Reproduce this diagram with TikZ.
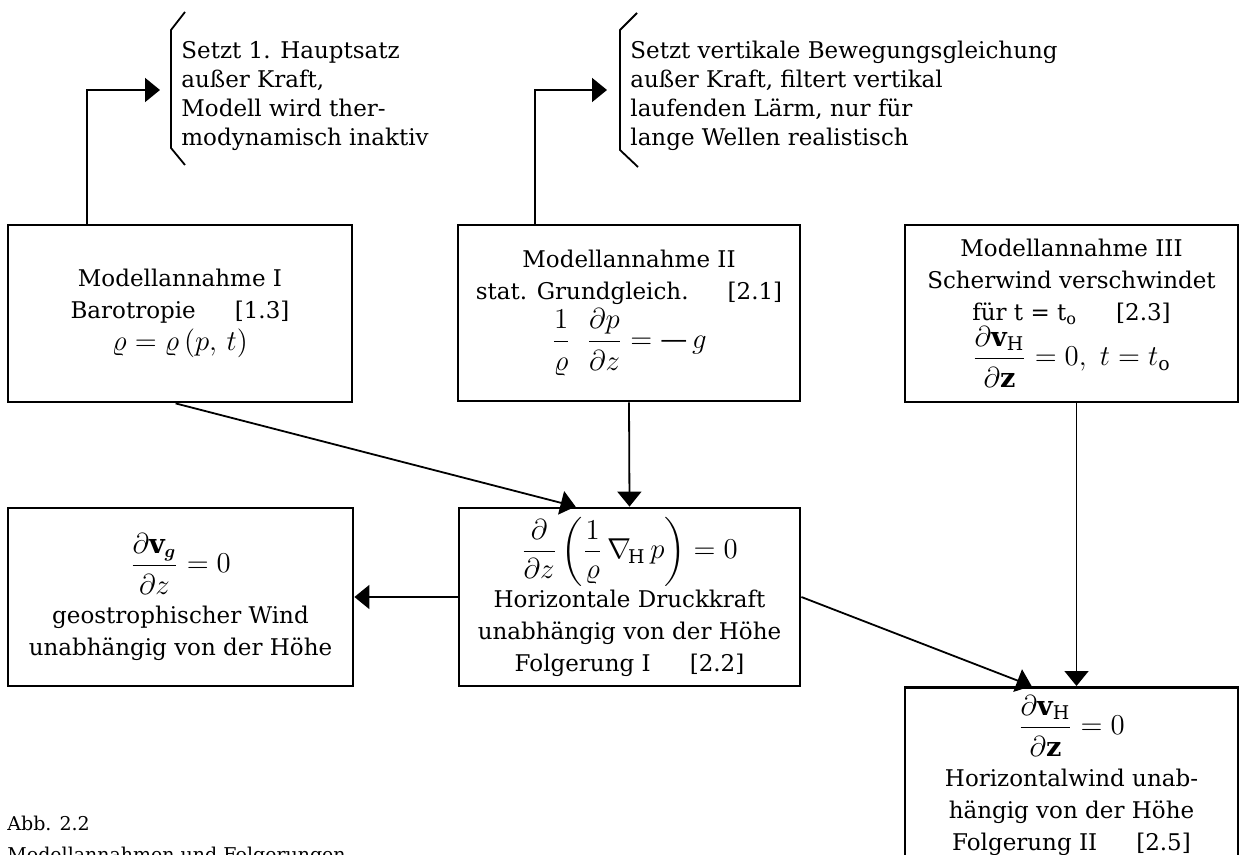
\documentclass[tikz,border=0pt]{standalone}
\usepackage{amsmath}
\usepackage{fontspec}
\setmainfont{DejaVu Serif}
\usetikzlibrary{arrows.meta,calc}

\newcommand{\abst}{\hspace{1.7em}}
\newcommand{\formel}[1]{{\fontsize{13.5}{16}\selectfont$\displaystyle #1$}}
\newcommand{\bruch}[2]{\frac{\rule[-3pt]{0pt}{3pt}#1}{\rule{0pt}{12.5pt}#2}}

\tikzset{
	kasten/.style={draw, line width=1.4pt, align=center, inner sep=2pt, font=\fontsize{11.5}{16}\selectfont},
	notiz/.style={anchor=west, align=left, inner sep=0pt, font=\fontsize{11.5}{14.5}\selectfont},
	pfeil/.style={line width=0.9pt, -{Triangle[length=7.5pt, width=12pt]}},
	klammer/.style={line width=0.9pt, line join=round}
}

\begin{document}
\begin{tikzpicture}[x=0.5pt, y=-0.5pt]
	\useasboundingbox (0,0) rectangle (1241,855);
	\clip (0,0) rectangle (1241,855);

	\node[kasten, minimum width=172pt, minimum height=88.5pt] (mod1) at (180,313.5)
		{Modellannahme I\\Barotropie\abst[1.3]\\\formel{\varrho = \varrho\,(p,\,t)}};
	\node[kasten, minimum width=171pt, minimum height=88pt] (mod2) at (629,313)
		{Modellannahme II\\stat. Grundgleich.\abst[2.1]\\[1pt]\formel{\bruch{1}{\varrho}\;\;\bruch{\partial p}{\partial z} = \text{---}\,g}};
	\node[kasten, minimum width=166.5pt, minimum height=88.5pt] (mod3) at (1071.5,313.5)
		{Modellannahme III\\Scherwind verschwindet\\für t = t$_\mathrm{o}$\abst[2.3]\\\formel{\bruch{\partial \mathbf{v}_\mathrm{H}}{\partial \mathbf{z}} = 0,\ t = t_\mathrm{o}}};
	\node[kasten, minimum width=172.5pt, minimum height=89pt] (geo) at (180.5,597)
		{\formel{\bruch{\partial \mathbf{v}_{\boldsymbol{g}}}{\partial z} = 0}\\[5pt]geostrophischer Wind\\unabhängig von der Höhe};
	\node[kasten, minimum width=170.5pt, minimum height=89pt] (folg1) at (629.5,597)
		{\formel{\frac{\partial}{\partial z}\left(\frac{1}{\varrho}\,\nabla_{\!\mathrm{H}}\,p\right) = 0}\\[1pt]Horizontale Druckkraft\\unabhängig von der Höhe\\Folgerung I\abst[2.2]};
	\node[kasten, minimum width=166.5pt, anchor=north, inner ysep=4pt] (folg2) at (1071.5,686)
		{\formel{\bruch{\partial \mathbf{v}_\mathrm{H}}{\partial \mathbf{z}} = 0}\\[5pt]Horizontalwind unab-\\hängig von der Höhe\\Folgerung II\abst[2.5]\\[4pt]};

	\draw[klammer] (185,12) -- (171,30) -- (171,148) -- (185,165);
	\node[notiz] (notiz1) at (181,96)
		{Setzt 1. Hauptsatz\\außer Kraft,\\Modell wird ther-\\modynamisch inaktiv};
	\draw[klammer] (637,13) -- (620,30) -- (620,150) -- (638,167);
	\node[notiz] (notiz2) at (630,96)
		{Setzt vertikale Bewegungsgleichung\\außer Kraft, filtert vertikal\\laufenden Lärm, nur für\\lange Wellen realistisch};
	\coordinate (spitze1) at (160,90);
	\coordinate (spitze2) at (607,90);

	\node[anchor=north west, align=left, inner sep=0pt, font=\fontsize{9.5}{15.5}\selectfont] (abb) at (7,816)
		{Abb. 2.2\\Modellannahmen und Folgerungen};

	\draw[pfeil] ($(mod1.north west)+(80,0)$) |- (spitze1);
	\draw[pfeil] ($(mod2.north west)+(78,0)$) |- (spitze2);
	\draw[pfeil] ($(mod1.south west)+(169,0)$) -- ($(folg1.north west)+(118,0)$);
	\draw[pfeil] (mod2.south) -- (folg1.north);
	\draw[pfeil] (folg1.west) -- (geo.east);
	\draw[pfeil] (folg1.east) -- ($(folg2.north west)+(128,0)$);
	\draw[pfeil] ($(mod3.south)+(5,0)$) -- ($(mod3.south |- folg2.north)+(5,0)$);
\end{tikzpicture}
\end{document}
